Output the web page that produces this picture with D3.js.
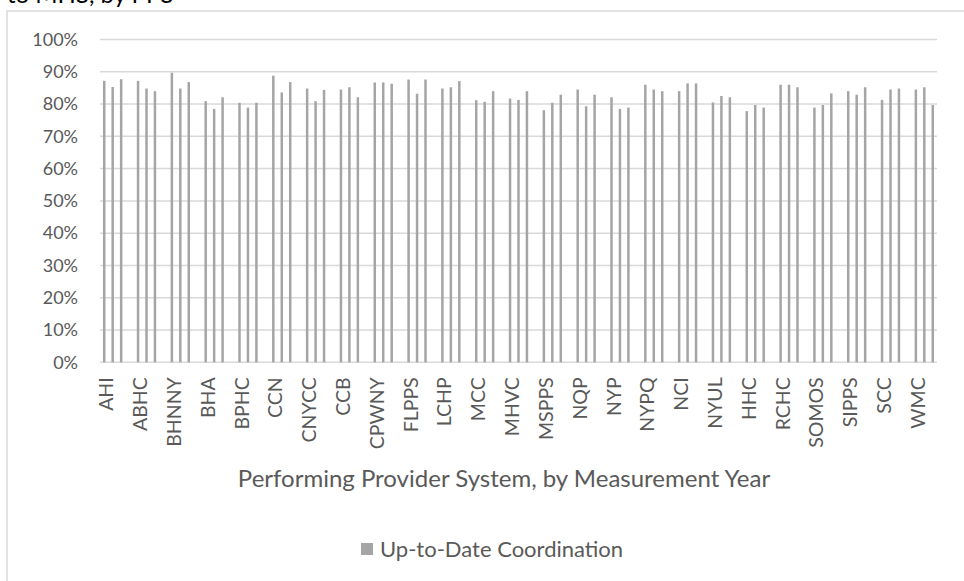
<!DOCTYPE html>
<html>
<head>
<meta charset="utf-8">
<script src="https://cdn.jsdelivr.net/npm/d3@7"></script>
<style>
  html, body { margin: 0; padding: 0; background: #fff; }
  svg { display: block; }
  text { font-family: Lato, "Open Sans", sans-serif; }
</style>
</head>
<body>
<svg id="chart" width="964" height="581"></svg>
<script>
// Performing Provider Systems (one group of bars per PPS)
const ppsNames = ["AHI","ABHC","BHNNY","BHA","BPHC","CCN","CNYCC","CCB","CPWNY","FLPPS",
  "LCHP","MCC","MHVC","MSPPS","NQP","NYP","NYPQ","NCI","NYUL","HHC","RCHC","SOMOS","SIPPS","SCC","WMC"];

// Three measurement years per PPS
const measurementYears = ["MY1","MY2","MY3"];

// Up-to-Date Coordination rate (%), one row per PPS, one value per measurement year
const upToDateCoordination = [
  [87.2, 85.3, 87.7], // AHI
  [87.2, 84.8, 84.0], // ABHC
  [89.7, 84.8, 86.8], // BHNNY
  [80.9, 78.5, 82.1], // BHA
  [80.4, 78.9, 80.4], // BPHC
  [88.8, 83.6, 86.8], // CCN
  [84.8, 80.9, 84.4], // CNYCC
  [84.5, 85.2, 82.1], // CCB
  [86.7, 86.7, 86.3], // CPWNY
  [87.6, 83.2, 87.6], // FLPPS
  [84.8, 85.2, 87.1], // LCHP
  [81.2, 80.7, 84.0], // MCC
  [81.7, 81.3, 84.0], // MHVC
  [78.1, 80.4, 82.9], // MSPPS
  [84.5, 79.3, 82.9], // NQP
  [82.1, 78.5, 78.9], // NYP
  [86.0, 84.5, 84.0], // NYPQ
  [84.0, 86.4, 86.4], // NCI
  [80.5, 82.5, 82.1], // NYUL
  [77.8, 79.7, 78.9], // HHC
  [86.0, 86.0, 85.2], // RCHC
  [78.9, 79.7, 83.3], // SOMOS
  [84.0, 82.9, 85.2], // SIPPS
  [81.3, 84.5, 84.8], // SCC
  [84.5, 85.2, 79.7]  // WMC
];

const yTicks = [0,10,20,30,40,50,60,70,80,90,100];
const seriesName = "Up-to-Date Coordination";
const xAxisTitle = "Performing Provider System, by Measurement Year";
const headingTail = "to MHS, by PPS";

const barColor = "#a5a5a5";
const gridColor = "#d9d9d9";
const textColor = "#595959";

const svg = d3.select("#chart");
const plot = { left: 100, right: 937, top: 39.5, bottom: 362.3 };

// Slots: three bars per PPS, then an empty spacer slot between groups
const slots = [];
ppsNames.forEach((p, i) => {
  measurementYears.forEach(y => slots.push(p + "|" + y));
  if (i < ppsNames.length - 1) slots.push(p + "|gap");
});

const x = d3.scaleBand().domain(slots).range([plot.left, plot.right]).padding(0);
const y = d3.scaleLinear().domain([0, 100]).range([plot.bottom, plot.top]);

// Tail of the report heading, running off the top of the page
svg.append("text")
  .attr("x", 7).attr("y", 3)
  .attr("font-size", 24).attr("fill", "#000")
  .text(headingTail);

// Chart frame
svg.append("rect")
  .attr("x", 7).attr("y", 11)
  .attr("width", 1200).attr("height", 1200)
  .attr("fill", "none").attr("stroke", gridColor).attr("stroke-width", 1.5);

// Gridlines
svg.append("g")
  .selectAll("line").data(yTicks).join("line")
  .attr("x1", plot.left).attr("x2", plot.right)
  .attr("y1", d => y(d)).attr("y2", d => y(d))
  .attr("stroke", gridColor).attr("stroke-width", 1.5);

// Y axis labels
const yAxis = d3.axisLeft(y).tickValues(yTicks).tickSize(0).tickPadding(0)
  .tickFormat(d => d + "%");
const yg = svg.append("g").attr("transform", `translate(${plot.left - 22},0)`).call(yAxis);
yg.select(".domain").remove();
yg.selectAll("text").attr("font-size", 18).attr("fill", textColor)
  .attr("font-family", "Lato, 'Open Sans', sans-serif");

// Bars
const barData = [];
ppsNames.forEach((p, i) => {
  measurementYears.forEach((yr, j) => {
    barData.push({ key: p + "|" + yr, value: upToDateCoordination[i][j] });
  });
});
const barW = 2.5;
svg.append("g")
  .selectAll("rect").data(barData).join("rect")
  .attr("x", d => x(d.key) + x.bandwidth() / 2 - barW / 2)
  .attr("width", barW)
  .attr("y", d => y(d.value))
  .attr("height", d => y(0) - y(d.value))
  .attr("fill", barColor);

// Category labels, one per PPS at its first bar, rotated
svg.append("g")
  .selectAll("text").data(ppsNames).join("text")
  .attr("transform", d => `translate(${x(d + "|" + measurementYears[0]) + x.bandwidth() / 2 + 2},${plot.bottom + 15}) rotate(-90)`)
  .attr("text-anchor", "end")
  .attr("dy", "0.36em")
  .attr("font-size", 19.5)
  .attr("fill", textColor)
  .text(d => d);

// X axis title
svg.append("text")
  .attr("x", 504).attr("y", 487)
  .attr("text-anchor", "middle")
  .attr("font-size", 24)
  .attr("fill", textColor)
  .text(xAxisTitle);

// Legend
const lg = svg.append("g").attr("transform", "translate(361,543)");
lg.append("rect").attr("x", 0).attr("y", 0).attr("width", 12).attr("height", 12).attr("fill", barColor);
lg.append("text").attr("x", 19).attr("y", 6).attr("dy", "0.35em")
  .attr("font-size", 22).attr("fill", textColor).text(seriesName);
</script>
</body>
</html>
